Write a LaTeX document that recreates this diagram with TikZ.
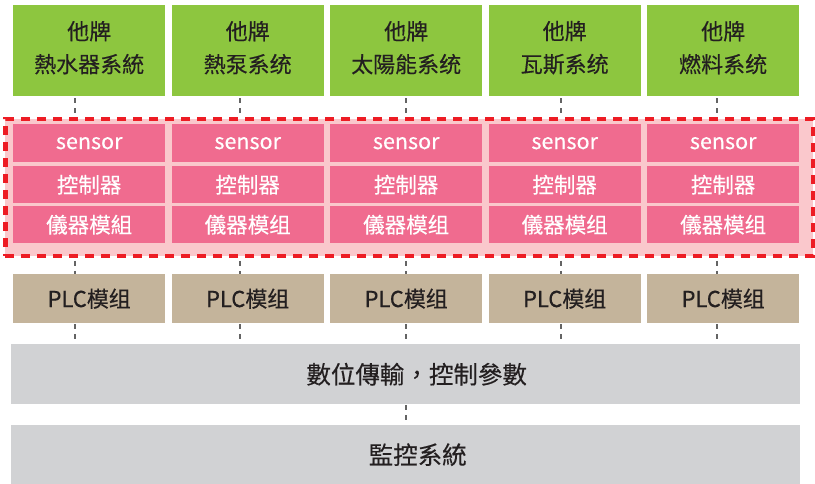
\documentclass[tikz,border=0pt]{standalone}
\usepackage{fontspec}
\setmainfont[FakeBold=0.35]{Noto Sans CJK TC}
\definecolor{tgreen}{RGB}{141,198,63}
\definecolor{tpink}{RGB}{240,107,143}
\definecolor{tlpink}{RGB}{250,200,204}
\definecolor{tred}{RGB}{237,28,36}
\definecolor{ttan}{RGB}{196,180,155}
\definecolor{tgray}{RGB}{209,210,212}
\definecolor{tdark}{RGB}{35,31,32}
\definecolor{tline}{RGB}{100,100,100}
\begin{document}
\begin{tikzpicture}[x=1pt,y=-1pt,
  box/.style={draw=none,inner sep=0pt,anchor=north west,minimum width=152pt},
  topbox/.style={box,fill=tgreen,minimum height=91pt},
  toptext/.style={inner sep=0pt,align=center,text=tdark,font=\fontsize{22}{33}\selectfont},
  cell/.style={box,fill=tpink,text=white,font=\fontsize{21.5}{25}\selectfont},
  plc/.style={box,fill=ttan,minimum height=49pt,text=tdark,font=\fontsize{22}{26}\selectfont},
  wide/.style={draw=none,inner sep=0pt,anchor=north west,minimum width=789pt,fill=tgray},
  widetext/.style={inner sep=0pt,text=tdark,font=\fontsize{24.5}{28}\selectfont},
  zonebox/.style={draw=tred,fill=tlpink,line width=4.5pt,dash pattern=on 9pt off 7pt,inner sep=0pt,anchor=north west,minimum width=808pt,minimum height=137pt},
  conn/.style={draw=tline,line width=2.2pt,dash pattern=on 5pt off 5pt}]
\useasboundingbox[fill=white] (0,0) rectangle (815,484);

% zone
\node[zonebox] (zone) at (3,117) {};

% top green boxes
\node[topbox] (g1) at (13,5) {};
\node[topbox] (g2) at (171.5,5) {};
\node[topbox] (g3) at (330,5) {};
\node[topbox] (g4) at (488.5,5) {};
\node[topbox] (g5) at (647,5) {};
\node[toptext,yshift=3pt] (g1t) at (g1.center) {他牌\\熱水器系統};
\node[toptext,yshift=3pt] (g2t) at (g2.center) {他牌\\熱泵系统};
\node[toptext,yshift=3pt] (g3t) at (g3.center) {他牌\\太陽能系统};
\node[toptext,yshift=3pt] (g4t) at (g4.center) {他牌\\瓦斯系统};
\node[toptext,yshift=3pt] (g5t) at (g5.center) {他牌\\燃料系统};

% pink cells
\foreach \i/\x/\m in {1/13/儀器模組,2/171.5/儀器模组,3/330/儀器模组,4/488.5/儀器模组,5/647/儀器模组}{
  \node[cell,minimum height=38pt] (s\i) at (\x,124) {sensor};
  \node[cell,minimum height=37pt] (k\i) at (\x,166) {控制器};
  \node[cell,minimum height=37pt] (m\i) at (\x,206) {\m};
  \node[plc] (p\i) at (\x,274) {PLC模组};
}

% wide gray boxes
\node[wide,minimum height=60pt] (w1) at (11,344) {};
\node[wide,minimum height=59pt] (w2) at (11,425) {};
\node[widetext,xshift=11pt] (w1t) at (w1.center) {數位傳輸，控制參數};
\node[widetext,xshift=12pt] (w2t) at (w2.center) {監控系統};

% connector columns
\coordinate (c1) at (75,0);
\coordinate (c2) at (240,0);
\coordinate (c3) at (406,0);
\coordinate (c4) at (561,0);
\coordinate (c5) at (717,0);
\foreach \i in {1,...,5}{
  \draw[conn] ([yshift=-2pt]g\i.south -| c\i) -- ([yshift=2.5pt]zone.north -| c\i);
  \draw[conn] ([yshift=-2.5pt]zone.south -| c\i) -- (p\i.north -| c\i);
  \draw[conn] ([yshift=-1pt]p\i.south -| c\i) -- (w1.north -| c\i);
}
\draw[conn] ([yshift=-1pt]w1.south -| c3) -- (w2.north -| c3);
\end{tikzpicture}
\end{document}
